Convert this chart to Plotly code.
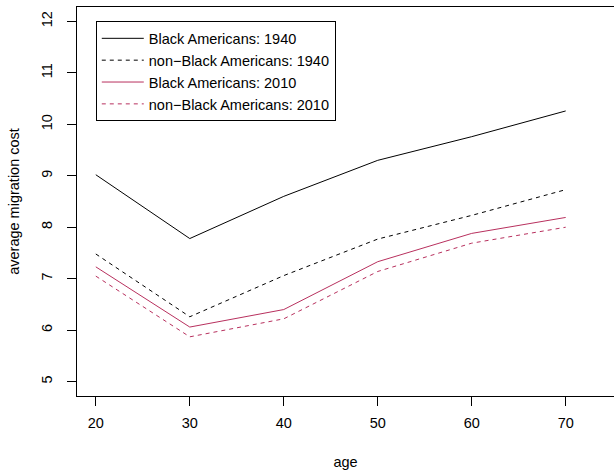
import plotly.graph_objects as go

# Average migration cost by age group
age = [20, 30, 40, 50, 60, 70]
black_1940 = [9.02, 7.78, 8.60, 9.30, 9.76, 10.26]
nonblack_1940 = [7.48, 6.26, 7.06, 7.77, 8.23, 8.73]
black_2010 = [7.23, 6.06, 6.40, 7.33, 7.88, 8.19]
nonblack_2010 = [7.05, 5.87, 6.22, 7.14, 7.69, 8.00]

y_ticks = [5, 6, 7, 8, 9, 10, 11, 12]

RED = "#B8305E"
FONT = "Liberation Sans, Arial, sans-serif"
FS = 14.5

series = [
    ("Black Americans: 1940", black_1940, "black", "solid"),
    ("non\u2212Black Americans: 1940", nonblack_1940, "black", "4px,4px"),
    ("Black Americans: 2010", black_2010, RED, "solid"),
    ("non\u2212Black Americans: 2010", nonblack_2010, RED, "4px,4px"),
]

fig = go.Figure()
for name, vals, col, dash in series:
    fig.add_trace(go.Scatter(
        x=age, y=vals, mode="lines", name=name,
        line=dict(color=col, width=1, dash=dash),
    ))

fig.update_layout(
    width=614, height=470,
    margin=dict(l=77, r=0, t=7, b=74),
    paper_bgcolor="white", plot_bgcolor="white",
    font=dict(family=FONT, size=FS, color="black"),
    showlegend=True,
    legend=dict(
        x=0.035, y=0.963, xanchor="left", yanchor="top",
        bordercolor="black", borderwidth=1, bgcolor="white",
        font=dict(family=FONT, size=FS, color="black"),
        tracegroupgap=0, itemwidth=42,
    ),
    xaxis=dict(
        range=[18, 75.14], tickvals=age, ticktext=[str(a) for a in age],
        showgrid=False, zeroline=False,
        showline=True, linecolor="black", linewidth=1, mirror=True,
        ticks="outside", ticklen=9, tickcolor="black",
        ticklabelstandoff=5,
        tickfont=dict(size=FS),
        title=dict(text="age", standoff=26, font=dict(size=FS)),
    ),
    yaxis=dict(
        range=[4.72, 12.28], tickvals=y_ticks, ticktext=[str(v) for v in y_ticks],
        tickangle=-90,
        showgrid=False, zeroline=False,
        showline=True, linecolor="black", linewidth=1,
        ticks="outside", ticklen=9, tickcolor="black",
        ticklabelstandoff=9,
        tickfont=dict(size=FS),
        title=dict(text="average migration cost", standoff=16, font=dict(size=FS)),
    ),
)

fig.write_html("out.html")
